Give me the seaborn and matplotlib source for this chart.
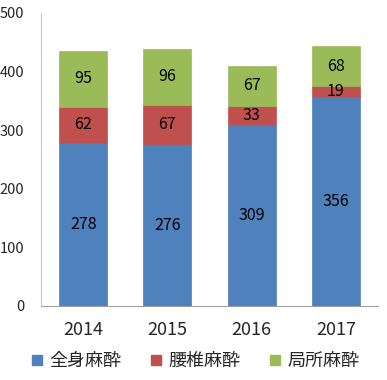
import matplotlib
matplotlib.use("Agg")
import matplotlib.pyplot as plt
import seaborn as sns
import pandas as pd
import numpy as np
from matplotlib.lines import Line2D

years = ["2014", "2015", "2016", "2017"]
general = [278, 276, 309, 356]
spinal = [62, 67, 33, 19]
local = [95, 96, 67, 68]
series_names = ["全身麻酔", "腰椎麻酔", "局所麻酔"]
colors = ["#4F81BD", "#C0504D", "#9BBB59"]

sns.set_style("white")
plt.rcParams['font.family'] = ['Noto Sans CJK JP', 'DejaVu Sans']

df = pd.DataFrame({"year": years, series_names[0]: general,
                   series_names[1]: spinal, series_names[2]: local})

fig = plt.figure(figsize=(3.87, 3.80), dpi=100)
ax = fig.add_axes([0.106, 0.195, 0.871, 0.771])

bottom = np.zeros(len(years))
for name, color in zip(series_names, colors):
    sns.barplot(x="year", y=name, data=df, color=color, bottom=bottom,
                width=0.57, ax=ax, saturation=1, edgecolor=color, linewidth=0.5)
    bottom = bottom + df[name].values

for cont in ax.containers:
    ax.bar_label(cont, label_type="center", fontsize=11.5, color="black")

ax.set_ylim(0, 500)
ax.set_xlim(-0.5, 3.5)
ax.set_yticks(range(0, 501, 100))
ax.set_xlabel("")
ax.set_ylabel("")
ax.tick_params(axis="y", length=0, labelsize=10.5, pad=12)
ax.tick_params(axis="x", length=0, labelsize=13, pad=11)
for s in ["top", "right"]:
    ax.spines[s].set_visible(False)
ax.spines["left"].set_color("#C8C8C8")
ax.spines["bottom"].set_color("#A0A0A0")

handles = [Line2D([], [], marker="s", linestyle="", color=c, markersize=7) for c in colors]
fig.legend(handles, series_names, loc="center", bbox_to_anchor=(0.505, 0.05), ncol=3,
           frameon=False, fontsize=13, handlelength=0.6, handletextpad=0.4,
           columnspacing=1.6)

fig.savefig("out.png", dpi=100)
